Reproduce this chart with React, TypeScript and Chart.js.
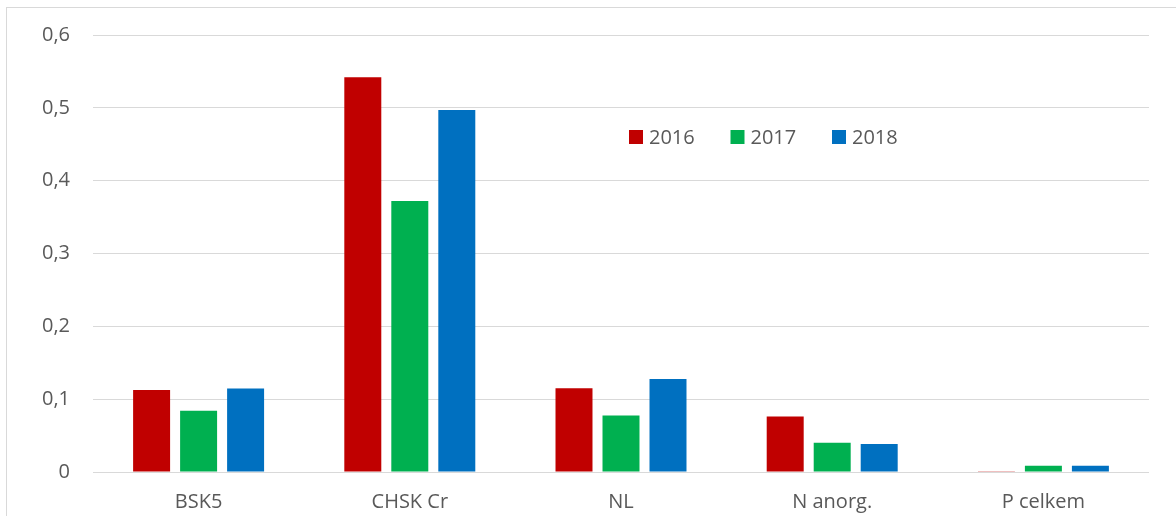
import React, { useEffect, useRef } from "react";
import { Chart, registerables } from "chart.js";

Chart.register(...registerables);

const categories = ["BSK5", "CHSK Cr", "NL", "N anorg.", "P celkem"];
const seriesLabels = ["2016", "2017", "2018"];
const values2016 = [0.1125, 0.542, 0.115, 0.0762, 0.001];
const values2017 = [0.084, 0.372, 0.0776, 0.0403, 0.0085];
const values2018 = [0.1147, 0.497, 0.1277, 0.0384, 0.0085];
const seriesColors = ["#C00000", "#00B050", "#0070C0"];
const yTicks = [0, 0.1, 0.2, 0.3, 0.4, 0.5, 0.6];

const FONT = "'Open Sans', 'Noto Sans', sans-serif";
const TEXT_COLOR = "#595959";

const legendPlugin = {
  id: "innerLegend",
  afterDraw(chart: any) {
    const ctx = chart.ctx;
    ctx.save();
    ctx.font = `20px ${FONT}`;
    ctx.textBaseline = "middle";
    ctx.textAlign = "left";
    const y = 137;
    let x = 629;
    chart.data.datasets.forEach((ds: any) => {
      ctx.fillStyle = ds.backgroundColor;
      ctx.fillRect(x, y - 7, 14, 14);
      ctx.fillStyle = TEXT_COLOR;
      ctx.fillText(ds.label, x + 20, y + 1);
      x += 101.5;
    });
    ctx.restore();
  },
};

export default function App() {
  const canvasRef = useRef<HTMLCanvasElement | null>(null);

  useEffect(() => {
    if (!canvasRef.current) return;
    const datasetValues = [values2016, values2017, values2018];
    const chart = new Chart(canvasRef.current, {
      type: "bar",
      data: {
        labels: categories,
        datasets: seriesLabels.map((label, i) => ({
          label,
          data: datasetValues[i],
          backgroundColor: seriesColors[i],
          borderWidth: 0,
          categoryPercentage: 0.6676,
          barPercentage: 0.787,
        })),
      },
      options: {
        animation: false,
        responsive: false,
        maintainAspectRatio: false,
        layout: { padding: { top: 33, right: 27, left: 0, bottom: 0 } },
        plugins: {
          legend: { display: false },
          tooltip: { enabled: false },
          title: { display: false },
        },
        scales: {
          x: {
            grid: { display: false, drawTicks: false },
            border: { display: false },
            ticks: {
              color: TEXT_COLOR,
              font: { family: FONT, size: 20 },
              padding: 18,
              maxRotation: 0,
              autoSkip: false,
            },
            afterFit(scale: any) {
              scale.height = 44;
            },
          },
          y: {
            min: 0,
            max: 0.6,
            afterBuildTicks(scale: any) {
              scale.ticks = yTicks.map((v) => ({ value: v }));
            },
            grid: { color: "#D9D9D9", lineWidth: 1, drawTicks: false },
            border: { display: false },
            ticks: {
              color: TEXT_COLOR,
              font: { family: FONT, size: 20 },
              padding: 23,
              callback: (v: any) =>
                Number(v) === 0 ? "0" : Number(v).toFixed(1).replace(".", ","),
            },
            afterFit(scale: any) {
              scale.width = 93;
            },
          },
        },
      },
      plugins: [legendPlugin],
    });
    return () => chart.destroy();
  }, []);

  return (
    <div
      style={{
        position: "absolute",
        left: 0,
        top: 0,
        width: 1176,
        height: 516,
        overflow: "hidden",
        background: "#ffffff",
      }}
    >
      <div
        style={{
          position: "absolute",
          left: 6,
          top: 7,
          width: 1400,
          height: 700,
          border: "1px solid #D9D9D9",
          boxSizing: "border-box",
        }}
      />
      <canvas
        ref={canvasRef}
        width={1176}
        height={516}
        style={{ position: "absolute", left: 0, top: 0, width: 1176, height: 516 }}
      />
    </div>
  );
}
